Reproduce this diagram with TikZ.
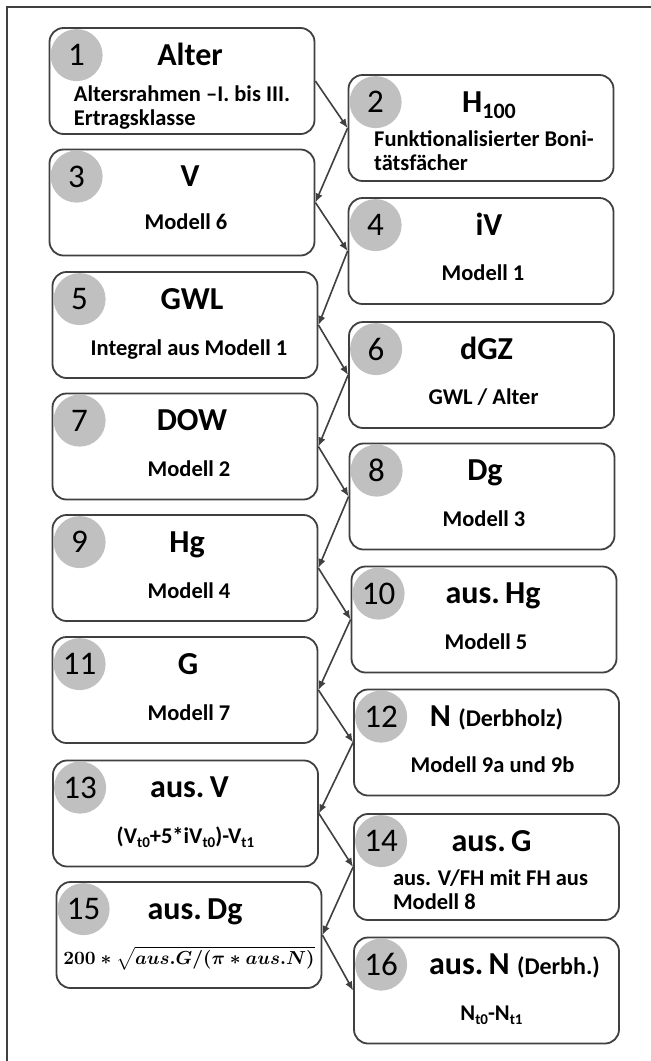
\documentclass[tikz,border=0pt]{standalone}
\usepackage{fontspec}
\setmainfont{Carlito}
\usepackage{graphicx}
\usetikzlibrary{calc,arrows.meta}
\definecolor{linegray}{RGB}{64,64,64}
\definecolor{circgray}{RGB}{192,192,192}
\newcommand\lowsub[1]{\raisebox{-4pt}{\fontsize{15}{15}\selectfont #1}}
\newcommand\flowbox[8]{%
  \node[flowrect] (#1) at (#2) {};
  \node[numcirc] (#1n) at ($(#1.north west)+(28,28)$) {#3};
  \node[ttl] (#1t) at ($(#1.north)+(#5,38)$) {#4};
  \node[subt] (#1s) at ($(#1.north)+(#8,#7)$) {#6};}
\tikzset{
  flowrect/.style={draw=linegray, line width=1.8pt, rounded corners=14pt, fill=white,
    minimum width=265pt, minimum height=106pt, inner sep=0pt},
  numcirc/.style={circle, fill=circgray, minimum size=52pt, inner sep=0pt,
    font=\fontsize{33}{33}\selectfont},
  ttl/.style={anchor=base, inner sep=0pt, font=\fontsize{32}{36}\selectfont\bfseries},
  subt/.style={anchor=base, inner sep=0pt, font=\fontsize{22.5}{24}\selectfont\bfseries},
  conn/.style={draw=linegray, line width=1.6pt, -{Latex[length=9pt,width=7.5pt]}},
}
\begin{document}
\begin{tikzpicture}[x=1pt,y=-1pt]
\fill[white] (0,0) rectangle (651,1061);
\useasboundingbox (0,0) rectangle (651,1061);
\coordinate (fa) at (651,7);
\coordinate (fb) at (7,7);
\coordinate (fc) at (7,1061);
\draw[linegray, line width=1.8pt] (fa) -- (fb) -- (fc);

\flowbox{b1}{182,81}{1}{Alter}{8}{\begin{tabular}[t]{@{}l@{}}Altersrahmen –I. bis III.\\Ertragsklasse\end{tabular}}{74}{0}
\flowbox{b2}{481,128}{2}{H\raisebox{-6pt}{\fontsize{22}{22}\selectfont 100}}{8}{\begin{tabular}[t]{@{}l@{}}Funktionalisierter Boni-\\tätsfächer\end{tabular}}{72}{3}
\flowbox{b3}{182,202.5}{3}{V}{8}{Modell 6}{81}{4}
\flowbox{b4}{481,251}{4}{iV}{8}{Modell 1}{83}{2}
\flowbox{b5}{185,325}{5}{GWL}{7}{Integral aus Modell 1}{84}{4}
\flowbox{b6}{481.5,375}{6}{dGZ}{5}{GWL / Alter}{83}{2}
\flowbox{b7}{185,446.5}{7}{DOW}{7}{Modell 2}{84}{4}
\flowbox{b8}{482,496.5}{8}{Dg}{3}{Modell 3}{84}{2}
\flowbox{b9}{185,568}{9}{Hg}{2}{Modell 4}{84}{4}
\flowbox{b10}{484,619.5}{10}{aus.\,Hg}{9}{Modell 5}{84}{2}
\flowbox{b11}{185,690}{11}{G}{3}{Modell 7}{84}{4}
\flowbox{b12}{486.5,742.5}{12}{N {\fontsize{24}{24}\selectfont (Derbholz)}}{10}{Modell 9a und 9b}{84}{6}
\flowbox{b13}{185.5,813.5}{13}{aus.\,V}{4}{(V\lowsub{t0}+5*iV\lowsub{t0})-V\lowsub{t1}}{84}{0}
\flowbox{b14}{486.5,867}{14}{aus.\,G}{5}{\begin{tabular}[t]{@{}l@{}}aus. V/FH mit FH aus\\Modell 8\end{tabular}}{72}{4}
\flowbox{b15}{189,935}{15}{aus.\,Dg}{6}{\scalebox{1.88}{\normalsize\boldmath$200 * \sqrt{aus.G/(\pi * aus.N)}$}}{83}{0}
\flowbox{b16}{486.5,990.5}{16}{aus.\,N {\fontsize{24}{24}\selectfont (Derbh.)}}{28}{N\lowsub{t0}-N\lowsub{t1}}{84}{5}

\draw[conn] (b1.east) -- (b2.west);
\draw[conn] (b2.west) -- (b3.east);
\draw[conn] (b3.east) -- (b4.west);
\draw[conn] (b4.west) -- (b5.east);
\draw[conn] (b5.east) -- (b6.west);
\draw[conn] (b6.west) -- (b7.east);
\draw[conn] (b7.east) -- (b8.west);
\draw[conn] (b8.west) -- (b9.east);
\draw[conn] (b9.east) -- (b10.west);
\draw[conn] (b10.west) -- (b11.east);
\draw[conn] (b11.east) -- (b12.west);
\draw[conn] (b12.west) -- (b13.east);
\draw[conn] (b13.east) -- (b14.west);
\draw[conn] (b14.west) -- (b15.east);
\draw[conn] (b15.east) -- (b16.west);
\end{tikzpicture}
\end{document}
